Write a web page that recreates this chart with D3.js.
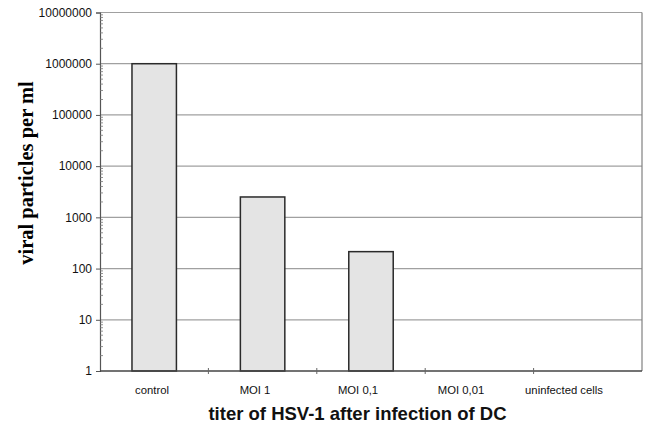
<!DOCTYPE html>
<html>
<head>
<meta charset="utf-8">
<script src="https://cdn.jsdelivr.net/npm/d3@7"></script>
<style>
  body { margin: 0; background: #fff; }
  svg { display: block; }
</style>
</head>
<body>
<div id="chart"></div>
<script>
(function () {
  var categories = ["control", "MOI 1", "MOI 0,1", "MOI 0,01", "uninfected cells"];
  var titers = [1000000, 2500, 214, 1, 1];
  var yTicks = [1, 10, 100, 1000, 10000, 100000, 1000000, 10000000];

  var width = 649, height = 424;
  var margin = {top: 12.5, right: 7, bottom: 53, left: 100};
  var w = width - margin.left - margin.right;
  var h = height - margin.top - margin.bottom;

  var svg = d3.select("#chart")
    .append("svg")
    .attr("width", width)
    .attr("height", height);

  var g = svg.append("g")
    .attr("transform", "translate(" + margin.left + "," + margin.top + ")");

  var x = d3.scaleBand().domain(categories).range([0, w]).paddingInner(0.59).paddingOuter(0.295);
  var xTick = d3.scaleBand().domain(categories).range([0, w]);
  // labels in the scan sit a little left of the band centres
  var xLabel = d3.scalePoint().domain(categories).range([51.5, 463.5]);
  var y = d3.scaleLog().domain([1, 10000000]).range([h, 0]);

  // grid lines
  g.selectAll(".grid")
    .data(yTicks.slice(1))
    .enter().append("line")
    .attr("x1", 0).attr("x2", w)
    .attr("y1", function (d) { return y(d); })
    .attr("y2", function (d) { return y(d); })
    .attr("stroke", "#a0a0a0")
    .attr("stroke-width", 1.2);

  // right frame
  g.append("line")
    .attr("x1", w).attr("x2", w).attr("y1", 0).attr("y2", h)
    .attr("stroke", "#808080").attr("stroke-width", 1.2);

  // bars
  g.selectAll(".bar")
    .data(categories.filter(function (c, i) { return titers[i] > 1; }))
    .enter().append("rect")
    .attr("x", function (d) { return x(d); })
    .attr("width", x.bandwidth())
    .attr("y", function (d) { return y(titers[categories.indexOf(d)]); })
    .attr("height", function (d) { return h - y(titers[categories.indexOf(d)]); })
    .attr("fill", "#e4e4e4")
    .attr("stroke", "#2a2a2a")
    .attr("stroke-width", 1.5);

  // y axis
  var yAxis = d3.axisLeft(y)
    .tickValues(yTicks)
    .tickFormat(d3.format("d"))
    .tickSize(4)
    .tickPadding(4);
  var ya = g.append("g").call(yAxis);
  ya.select(".domain").attr("stroke", "#555").attr("stroke-width", 1.2);
  ya.selectAll(".tick line").attr("stroke", "#555");
  ya.selectAll("text")
    .attr("font-family", "Liberation Sans, Arial, sans-serif")
    .attr("font-size", 12)
    .attr("fill", "#111");

  // minor ticks
  var minor = [];
  yTicks.slice(0, -1).forEach(function (t) {
    for (var k = 2; k < 10; k++) minor.push(t * k);
  });
  g.selectAll(".minor")
    .data(minor)
    .enter().append("line")
    .attr("x1", 0).attr("x2", 3)
    .attr("y1", function (d) { return y(d); })
    .attr("y2", function (d) { return y(d); })
    .attr("stroke", "#777")
    .attr("stroke-width", 0.8);

  // x axis
  var xAxis = d3.axisBottom(xLabel).tickSize(0).tickPadding(15);
  var xa = g.append("g").attr("transform", "translate(0," + h + ")").call(xAxis);
  xa.select(".domain").remove();
  xa.selectAll("text")
    .attr("font-family", "Liberation Sans, Arial, sans-serif")
    .attr("font-size", 11.3)
    .attr("fill", "#111");
  g.append("line")
    .attr("x1", 0).attr("x2", w).attr("y1", h).attr("y2", h)
    .attr("stroke", "#444").attr("stroke-width", 1.5);

  // category separator ticks
  g.selectAll(".sep")
    .data(categories.slice(1))
    .enter().append("line")
    .attr("x1", function (d) { return xTick(d); })
    .attr("x2", function (d) { return xTick(d); })
    .attr("y1", h - 3).attr("y2", h + 3)
    .attr("stroke", "#666");

  // axis titles
  svg.append("text")
    .attr("x", 357.5).attr("y", 420)
    .attr("text-anchor", "middle")
    .attr("font-family", "Liberation Sans, Arial, sans-serif")
    .attr("font-weight", "bold")
    .attr("font-size", 18.5)
    .attr("fill", "#111")
    .text("titer of HSV-1 after infection of DC");

  svg.append("text")
    .attr("transform", "translate(33,173) rotate(-90)")
    .attr("text-anchor", "middle")
    .attr("font-family", "Liberation Serif, Times New Roman, serif")
    .attr("font-weight", "bold")
    .attr("font-size", 20.5)
    .attr("fill", "#000")
    .text("viral particles per ml");
}());
</script>
</body>
</html>
